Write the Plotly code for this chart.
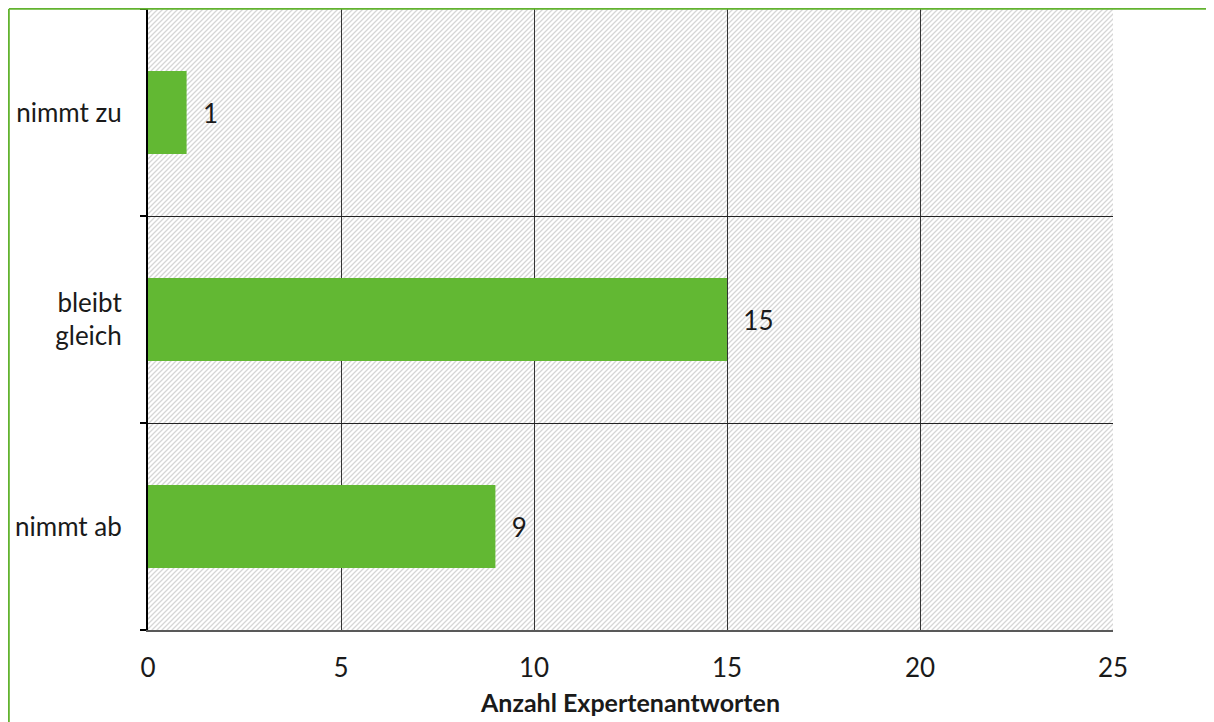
import base64
import plotly.graph_objects as go

categories = ["nimmt ab", "bleibt<br>gleich", "nimmt zu"]
values = [9, 15, 1]
x_ticks = [0, 5, 10, 15, 20, 25]
x_title = "Anzahl Expertenantworten"

W, H = 1214, 722
# page body has an 8px margin; plot area sits at page x 148..1113, y 9..630
L, T = 140, 1
pw, ph = 965, 621
R, B = W - L - pw, H - T - ph

# hatched background as an svg pattern image
svg = f'''<svg xmlns="http://www.w3.org/2000/svg" width="{pw}" height="{ph}" viewBox="0 0 {pw} {ph}">
<defs><pattern id="p" width="5" height="5" patternUnits="userSpaceOnUse">
<rect width="5" height="5" fill="white"/>
<path d="M-1,1 l2,-2 M0,5 l5,-5 M4,6 l2,-2" stroke="#d6d6d6" stroke-width="1.3"/>
</pattern></defs>
<rect width="{pw}" height="{ph}" fill="url(#p)"/></svg>'''
src = "data:image/svg+xml;base64," + base64.b64encode(svg.encode()).decode()

font = "Lato, 'Open Sans', sans-serif"
fs = 26

fig = go.Figure(go.Bar(
    x=values, y=categories, orientation="h",
    marker=dict(color="#62b833", line=dict(width=0)),
    width=0.4,
    text=values, texttemplate="  %{x}", textposition="outside",
    textfont=dict(size=fs, color="#1a1a1a", family=font),
    cliponaxis=False,
))

gx = (0.9 - L) / pw
gy = 1 + (T - 0.9) / ph

fig.update_layout(
    width=W, height=H,
    margin=dict(l=L, r=R, t=T, b=B),
    paper_bgcolor="white", plot_bgcolor="rgba(0,0,0,0)",
    showlegend=False,
    font=dict(family=font, size=fs, color="#1a1a1a"),
    images=[dict(source=src, xref="paper", yref="paper", x=0, y=1,
                 sizex=1, sizey=1, sizing="stretch", layer="below",
                 xanchor="left", yanchor="top")],
    xaxis=dict(range=[0, 25], tickvals=x_ticks, showgrid=True,
               gridcolor="#333333", gridwidth=1, zeroline=False,
               showline=True, linecolor="#595959", linewidth=2,
               ticks="", ticklabelstandoff=14,
               tickfont=dict(size=fs),
               title=dict(text="<b>" + x_title + "</b>", font=dict(size=25), standoff=12),
               fixedrange=True),
    yaxis=dict(categoryorder="array", categoryarray=categories,
               tickson="boundaries", ticks="outside", ticklen=6,
               tickcolor="black", tickwidth=2,
               showgrid=True, gridcolor="#222222", gridwidth=1,
               showline=True, linecolor="black", linewidth=2,
               ticklabelstandoff=19, tickfont=dict(size=fs),
               fixedrange=True),
    shapes=[dict(type="line", xref="paper", yref="paper",
                 x0=gx, x1=1.2, y0=gy, y1=gy,
                 line=dict(color="#62b32f", width=1.8)),
            dict(type="line", xref="paper", yref="paper",
                 x0=gx, x1=gx, y0=gy, y1=-0.3,
                 line=dict(color="#62b32f", width=1.8))],
)

fig.write_html("out.html")
